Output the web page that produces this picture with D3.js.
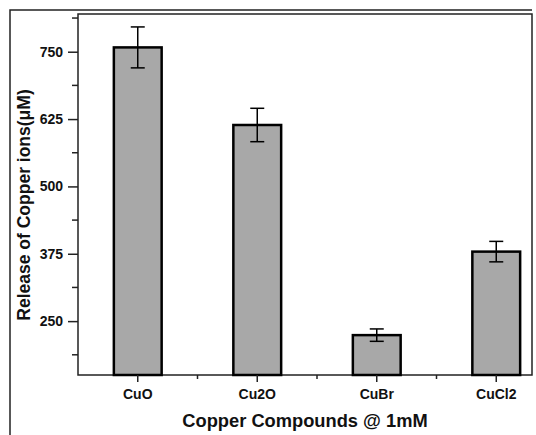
<!DOCTYPE html>
<html lang="en">
<head>
    <meta charset="UTF-8">
    <title>Copper release</title>
    <script src="https://cdn.jsdelivr.net/npm/d3@7"></script>
    <style>
        body { margin: 0; background: #fff; }
        text { font-family: "Liberation Sans", Arial, sans-serif; font-weight: bold; }
    </style>
</head>
<body>
<div id="chart"></div>
<script>
    // data
    const compounds = ["CuO", "Cu2O", "CuBr", "CuCl2"];
    const release = [758, 614, 224, 379];
    const errors = [38, 31, 11.5, 19];
    const yTicks = [250, 375, 500, 625, 750];

    const W = 536, H = 435;
    const plotL = 78, plotR = 532, plotT = 14, plotB = 375;

    const svg = d3.select("#chart").append("svg")
        .attr("width", W).attr("height", H);

    // outer frame
    svg.append("path")
        .attr("d", `M10,${H + 5}V10H532`)
        .attr("fill", "none").attr("stroke", "#222").attr("stroke-width", 1.5);

    const y = d3.scaleLinear().domain([150, 820]).range([plotB, plotT]);
    const step = 119.5;
    const x = d3.scaleBand(compounds, [plotL, plotL + step * compounds.length])
        .paddingInner(0.6).paddingOuter(0.3);

    // plot frame
    svg.append("rect")
        .attr("x", plotL).attr("y", plotT)
        .attr("width", plotR - plotL).attr("height", plotB - plotT)
        .attr("fill", "none").attr("stroke", "#222").attr("stroke-width", 1.5);

    // bars
    const data = compounds.map((c, i) => ({c, v: release[i], e: errors[i]}));
    svg.append("g").selectAll("rect")
        .data(data).join("rect")
        .attr("x", d => x(d.c))
        .attr("y", d => y(d.v))
        .attr("width", x.bandwidth())
        .attr("height", d => y(150) - y(d.v))
        .attr("fill", "#a8a8a8")
        .attr("stroke", "#000").attr("stroke-width", 2.5);

    // error bars
    const eb = svg.append("g").attr("stroke", "#000").attr("stroke-width", 1.5);
    data.forEach(d => {
        const cx = x(d.c) + x.bandwidth() / 2;
        eb.append("line").attr("x1", cx).attr("x2", cx)
            .attr("y1", y(d.v + d.e)).attr("y2", y(d.v - d.e));
        [d.v + d.e, d.v - d.e].forEach(v => {
            eb.append("line").attr("x1", cx - 7).attr("x2", cx + 7)
                .attr("y1", y(v)).attr("y2", y(v));
        });
    });

    // y axis
    const yAxis = svg.append("g")
        .attr("transform", `translate(${plotL},0)`)
        .call(d3.axisLeft(y).tickValues(yTicks).tickSize(10).tickPadding(5))
        .call(g => g.select(".domain").remove())
        .call(g => g.selectAll("line").attr("stroke", "#222").attr("stroke-width", 1.5))
        .call(g => g.selectAll("text").attr("font-size", 14).attr("fill", "#111"));
    const minorY = d3.range(187.5, 820, 125);
    yAxis.selectAll(".minor").data(minorY).join("line")
        .attr("x1", -6).attr("x2", 0)
        .attr("y1", d => y(d)).attr("y2", d => y(d))
        .attr("stroke", "#222").attr("stroke-width", 1.5);

    // x axis
    const xAxis = svg.append("g")
        .attr("transform", `translate(0,${plotB})`)
        .call(d3.axisBottom(x).tickSize(7).tickPadding(7))
        .call(g => g.select(".domain").remove())
        .call(g => g.selectAll("line").attr("stroke", "#222").attr("stroke-width", 1.5))
        .call(g => g.selectAll("text").attr("font-size", 14).attr("fill", "#111"));
    const minorX = compounds.slice(1).map(c => x(c) + x.bandwidth() / 2 - step / 2);
    xAxis.selectAll(".minor").data(minorX).join("line")
        .attr("x1", d => d).attr("x2", d => d)
        .attr("y1", 0).attr("y2", 4)
        .attr("stroke", "#222").attr("stroke-width", 1.5);

    // axis titles
    svg.append("text")
        .attr("x", 305).attr("y", 427)
        .attr("text-anchor", "middle")
        .attr("font-size", 18.3)
        .attr("fill", "#111")
        .text("Copper Compounds @ 1mM");

    svg.append("text")
        .attr("transform", "translate(30,205) rotate(-90)")
        .attr("text-anchor", "middle")
        .attr("font-size", 17.5)
        .attr("fill", "#111")
        .text("Release of Copper ions(μM)");
</script>
</body>
</html>
